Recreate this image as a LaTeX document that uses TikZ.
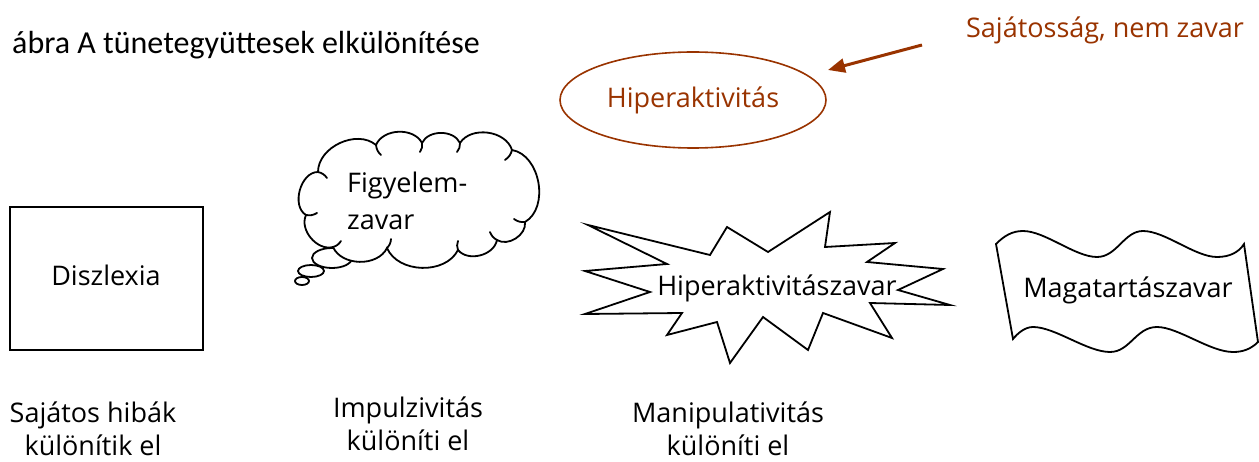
\documentclass[tikz,border=0pt]{standalone}
\usepackage{fontspec}
\usetikzlibrary{shapes.geometric,arrows.meta}
\setmainfont{Open Sans}
\newfontfamily\titlefont{Carlito}
\definecolor{rust}{RGB}{153,51,0}

\tikzset{
  hand/.style={font=\fontsize{27}{33}\selectfont, inner sep=0pt, align=center},
  outline/.style={draw=black, line width=2pt, line join=miter},
  rustline/.style={draw=rust, line width=1.6pt},
  pointer/.style={draw=rust, line width=3pt, -{Triangle[length=17pt,width=14pt]}},
  puff/.style={draw=black, line width=1.8pt, line cap=round},
}

\begin{document}
\begin{tikzpicture}[x=1pt, y=-1pt]
\useasboundingbox (0,0) rectangle (1259,462);

% title
\node[anchor=west, inner sep=0pt, font=\titlefont\fontsize{32}{38}\selectfont] (title) at (12,45) {ábra A tünetegyüttesek elkülönítése};

% remark with pointer to the ellipse
\node[hand, text=rust] (remark) at (1105,30) {Sajátosság, nem zavar};
\node[ellipse, rustline, minimum width=266pt, minimum height=96pt, inner sep=0pt,
      hand, text=rust] (hyper) at (693,100) {Hiperaktivitás};
\coordinate (tail) at (922,45);
\coordinate (tip) at (828,70);
\draw[pointer] (tail) -- (tip);

% Diszlexia box
\node[outline, minimum width=193pt, minimum height=143pt, hand] (diszlexia) at (106.5,278.5) {};
\node[hand] (diszlexiatext) at (106,275) {Diszlexia};

% thought cloud with trailing bubbles
\draw[puff] (332,258) ellipse [x radius=20, y radius=10];
\draw[puff] (311,271) ellipse [x radius=13, y radius=6];
\draw[puff] (302,281) ellipse [x radius=7, y radius=4];
\draw[puff, fill=white]
  (318,172) to[bend left=65] (376,145) to[bend left=65] (422,143)
  to[bend left=65] (460,143) to[bend left=65] (512,150)
  to[bend left=70] (525,222) to[bend left=65] (497,240)
  to[bend left=65] (458,250) to[bend left=65] (387,248)
  to[bend left=65] (333,247) to[bend left=65] (306,215)
  to[bend left=75] cycle;
% small inner creases where the puffs meet
\draw[puff] (376,145) to[bend right=20] (381,155);
\draw[puff] (422,143) to[bend left=20] (420,152);
\draw[puff] (460,143) to[bend left=20] (457,152);
\draw[puff] (512,150) to[bend left=20] (505,160);
\draw[puff] (525,222) to[bend left=20] (514,219);
\draw[puff] (497,240) to[bend left=20] (490,232);
\draw[puff] (458,250) to[bend left=20] (458,241);
\draw[puff] (387,248) to[bend right=20] (391,239);
\draw[puff] (333,247) to[bend right=20] (341,241);
\draw[puff] (306,215) to[bend right=20] (317,213);
\draw[puff] (318,172) to[bend left=20] (327,178);
\node[hand, align=left, anchor=west, font=\fontsize{27}{37}\selectfont] (figyelem) at (347,201) {Figyelem-\\zavar};

% explosion shape
\draw[outline, line width=1.8pt]
  (588,225) -- (667,264) -- (585,271) -- (650,292) -- (585,314)
  -- (682,313) -- (667,335) -- (717,322) -- (730,363) -- (763,317)
  -- (808,350) -- (823,313) -- (892,338) -- (870,303) -- (950,305)
  -- (898,290) -- (943,269) -- (867,262) -- (895,243) -- (825,247)
  -- (830,212) -- (768,252) -- (727,227) -- (710,255) -- cycle;
\node[hand] (hiperzavar) at (777,288) {Hiperaktivitászavar};

% wavy banner
\draw[outline, line width=1.8pt]
  (996,244) .. controls (1004,236) and (1012,231) .. (1023,231)
  .. controls (1045,231) and (1075,257) .. (1097,257)
  .. controls (1117,257) and (1124,231) .. (1143,231)
  .. controls (1165,231) and (1195,257) .. (1217,257)
  .. controls (1230,257) and (1239,252) .. (1244,244)
  -- (1258,342)
  .. controls (1251,349) and (1243,352) .. (1233,352)
  .. controls (1210,352) and (1178,327) .. (1157,327)
  .. controls (1136,327) and (1130,352) .. (1110,352)
  .. controls (1087,352) and (1055,327) .. (1033,327)
  .. controls (1025,327) and (1018,333) .. (1013,339)
  -- cycle;
\node[hand] (magatartas) at (1128,290) {Magatartászavar};

% captions below the shapes
\node[hand] (cap1) at (93,429) {Sajátos hibák\\különítik el};
\node[hand] (cap2) at (408,424) {Impulzivitás\\különíti el};
\node[hand] (cap3) at (728,429) {Manipulativitás\\különíti el};
\end{tikzpicture}
\end{document}
